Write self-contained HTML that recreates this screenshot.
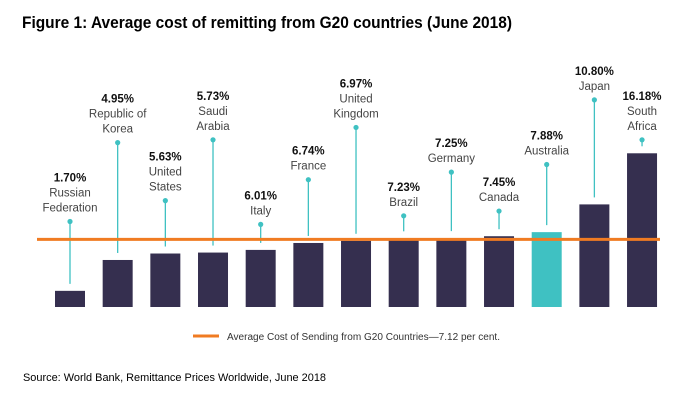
<!DOCTYPE html>
<html><head><meta charset="utf-8"><style>
body{margin:0;background:#fff;}
svg{display:block;font-family:"Liberation Sans",sans-serif;}
</style></head><body>
<svg id="chart" width="700" height="400" viewBox="0 0 700 400">
<text x="22" y="28" font-size="17" font-weight="bold" fill="#000" textLength="490" lengthAdjust="spacingAndGlyphs">Figure 1: Average cost of remitting from G20 countries (June 2018)</text>
<g id="bars"></g>
<g id="labels"></g>
<line id="avgline" stroke="#f07b22" stroke-width="3"/>
<g>
<line x1="193" y1="336" x2="219" y2="336" stroke="#f07b22" stroke-width="3"/>
<text x="227" y="340" font-size="10" fill="#333" textLength="273" lengthAdjust="spacingAndGlyphs">Average Cost of Sending from G20 Countries—7.12 per cent.</text>
</g>
<text x="23" y="381" font-size="11" fill="#000" textLength="303" lengthAdjust="spacingAndGlyphs">Source: World Bank, Remittance Prices Worldwide, June 2018</text>
</svg>
<script>
const countries = [["Russian","Federation"],["Republic of","Korea"],["United","States"],["Saudi","Arabia"],["Italy"],["France"],["United","Kingdom"],["Brazil"],["Germany"],["Canada"],["Australia"],["Japan"],["South","Africa"]];
const values = [1.70,4.95,5.63,5.73,6.01,6.74,6.97,7.23,7.25,7.45,7.88,10.80,16.18];
const valueLabels = ["1.70%","4.95%","5.63%","5.73%","6.01%","6.74%","6.97%","7.23%","7.25%","7.45%","7.88%","10.80%","16.18%"];
const dotValues = [9.0,17.3,11.2,17.6,8.7,13.4,18.9,9.6,14.2,10.1,15.0,21.8,17.6];
const highlightIndex = [10];
const averageCost = 7.12;

const NS="http://www.w3.org/2000/svg";
const baseY=307, scale=9.5, x0=70, step=47.67, bw=30;
const y=v=>baseY-v*scale;
const x=i=>x0+i*step;
function mk(t,a){const e=document.createElementNS(NS,t);for(const k in a)e.setAttribute(k,a[k]);return e;}
const gb=document.getElementById('bars'), gl=document.getElementById('labels');
values.forEach((v,i)=>{
  const r=mk('rect',{x:x(i)-bw/2,y:y(v),width:bw,height:v*scale,fill:highlightIndex.includes(i)?'#3fc1c2':'#352f4f'});
  
  
  gb.appendChild(r);
  const dy=y(dotValues[i]);
  const ln=mk('line',{x1:x(i),x2:x(i),y1:dy,y2:y(v)-7,stroke:'#3fc1c2','stroke-width':1.3});
  
  
  gl.appendChild(ln);
  const c=mk('circle',{cx:x(i),cy:dy,r:2.6,fill:'#3fc1c2'});
  
  
  gl.appendChild(c);
  const lines=countries[i];
  const lastY=dy-14;
  lines.slice().reverse().forEach((s,k)=>{
    const t=mk('text',{x:x(i),y:lastY-k*15+4,'text-anchor':'middle','font-size':11.5,fill:'#444'});
    t.textContent=s;
    
    
    gl.appendChild(t);
  });
  const p=mk('text',{x:x(i),y:lastY-lines.length*15+4,'text-anchor':'middle','font-size':11.5,'font-weight':'bold',fill:'#111'});
  p.textContent=valueLabels[i];
  
  
  gl.appendChild(p);
});
const al=document.getElementById('avgline');
al.setAttribute('x1',37);al.setAttribute('x2',660);
al.setAttribute('y1',y(averageCost));al.setAttribute('y2',y(averageCost));
</script>
</body></html>
